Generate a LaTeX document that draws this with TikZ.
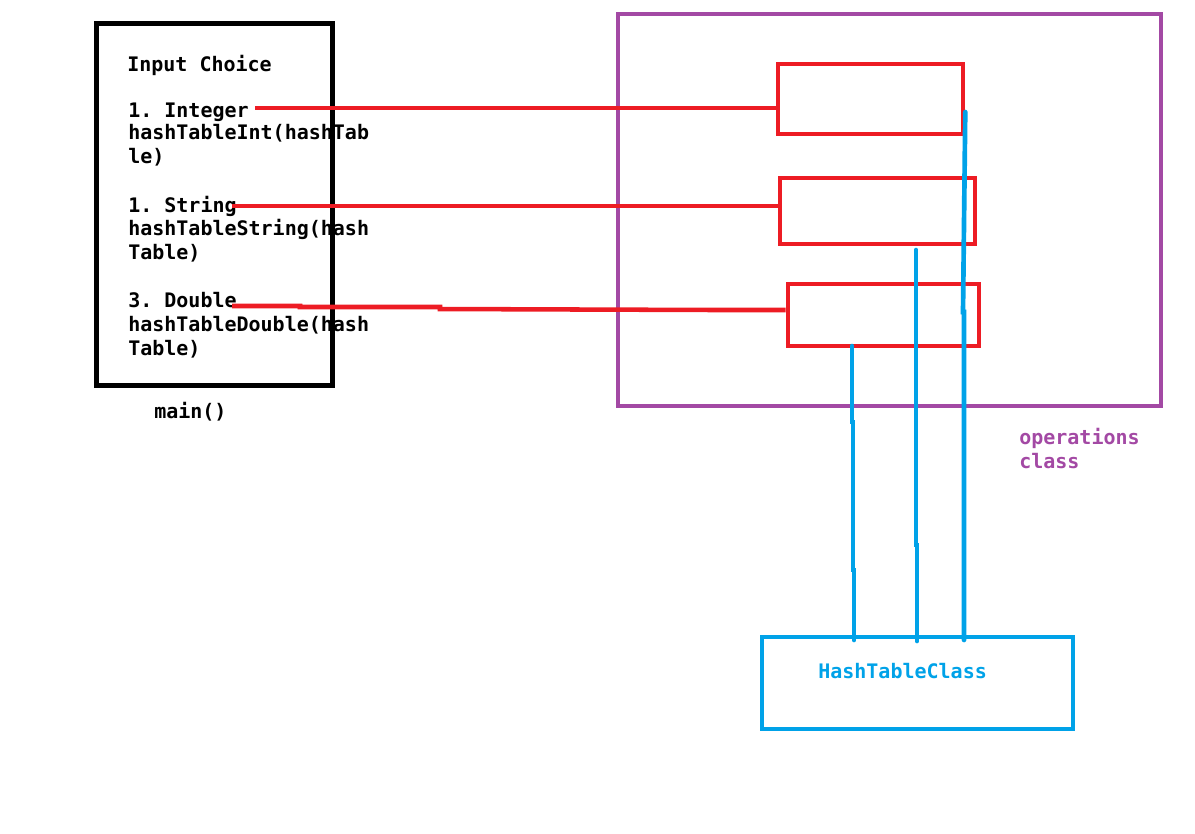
\documentclass[tikz,border=0pt]{standalone}
\usepackage{fontspec}
\setmonofont{DejaVu Sans Mono}
\usetikzlibrary{calc}
\definecolor{paintred}{HTML}{ED1C24}
\definecolor{paintblue}{HTML}{00A2E8}
\definecolor{paintpurple}{HTML}{A349A4}
\tikzset{
box/.style={draw, rectangle, inner sep=0pt},
code/.style={inner sep=0pt, anchor=base west, align=left,
	font=\fontsize{15}{18}\selectfont\ttfamily\bfseries},
redline/.style={draw=paintred, line width=3.4pt},
blueline/.style={draw=paintblue, line width=3.5pt, line cap=round}
}

\begin{document}
\begin{tikzpicture}[x=0.75pt, y=-0.75pt]
	\useasboundingbox (0,0) rectangle (1195,833);
	% main() side
	\node[box, line width=3.75pt, minimum width=177pt, minimum height=271.5pt] (mainbox) at (214.5,204) {};
	\node[code] (title) at (127,71) {Input Choice};
	\node[code] (int) at (128,117) {1. Integer};
	\node[code] (intcall) at (128,163) {hashTableInt(hashTab\\le)};
	\node[code] (str) at (128,212) {1. String};
	\node[code] (strcall) at (128,259) {hashTableString(hash\\Table)};
	\node[code] (dbl) at (128,307) {3. Double};
	\node[code] (dblcall) at (128,355) {hashTableDouble(hash\\Table)};
	\node[code] (mainlbl) at (154,418) {main()};
	% operations class
	\node[box, draw=paintpurple, line width=3.2pt, minimum width=407.25pt, minimum height=294pt] (ops) at (889.5,210) {};
	\node[code, text=paintpurple] (opslbl) at (1019,468) {operations\\class};
	\node[box, draw=paintred, line width=3.4pt, minimum width=138.75pt, minimum height=52.5pt] (opint) at (870.5,99) {};
	\node[box, draw=paintred, line width=3.4pt, minimum width=146.25pt, minimum height=49.5pt] (opstr) at (877.5,211) {};
	\node[box, draw=paintred, line width=3.4pt, minimum width=143.25pt, minimum height=46.5pt] (opdbl) at (883.5,315) {};
	% hash table class
	\node[box, draw=paintblue, line width=3.5pt, minimum width=233.25pt, minimum height=69pt] (hashcls) at (917.5,683) {};
	\node[code, text=paintblue] (hashlbl) at (818,678) {HashTableClass};
	\coordinate (intend) at (255,108);
	\coordinate (strend) at (232,206);
	\coordinate (dblend) at (232,306);
	\coordinate (dbljog) at (715,310);
	\draw[redline] (intend) -- (intend -| opint.west);
	\draw[redline] (strend) -- ($(strend -| opstr.west)+(3,0)$);
	\draw[redline] (dblend) -- (300,306) -- (300,307) -- (440,307) -- (440,309) -- (dbljog) -- (dbljog -| opdbl.west);
	\coordinate (blueA) at (852,346);
	\coordinate (blueB) at (916,250);
	\coordinate (blueC) at ($(opint.east)+(0,13)$);
	\draw[blueline] (blueA) -- (852,422) -- (853,422) -- (853,570) -- (854,570) -- (854,640);
	\draw[blueline] (blueB) -- (916,545) -- (917,545) -- (917,641);
	\draw[blueline] (blueC) -- (963,312) -- (964,312) -- (964,640);
\end{tikzpicture}
\end{document}
